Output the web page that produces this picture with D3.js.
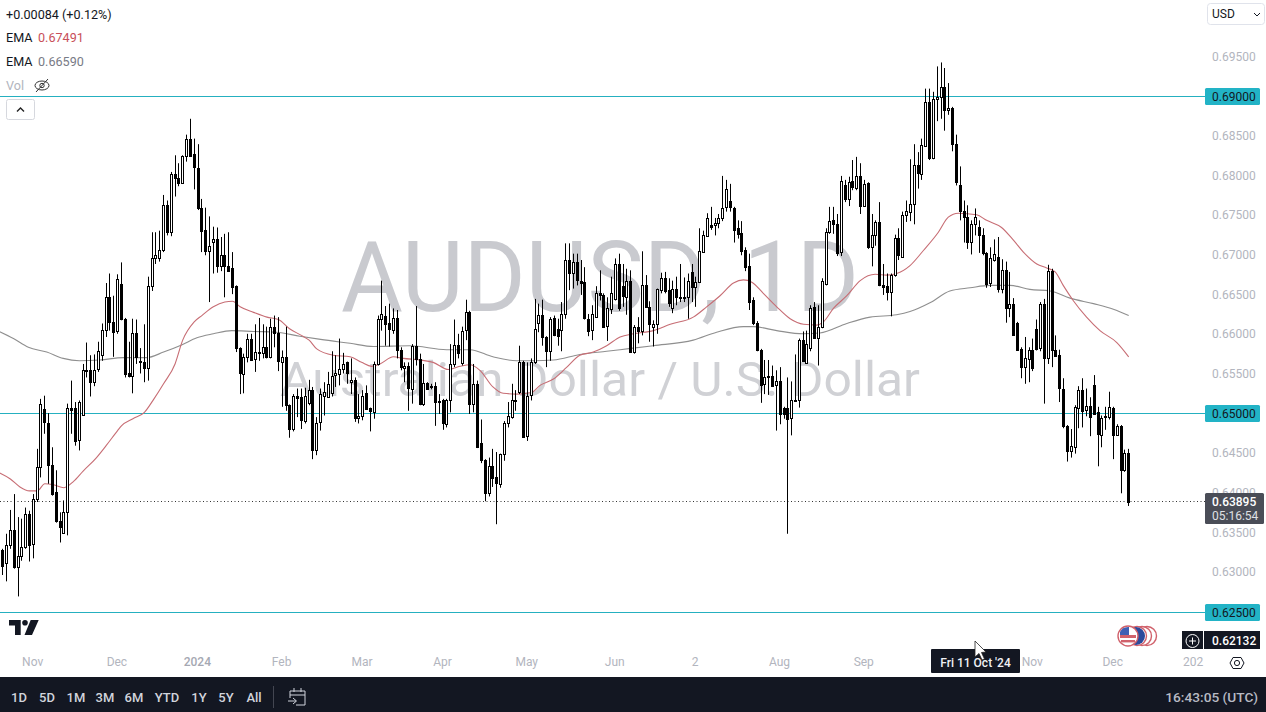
<!DOCTYPE html>
<html><head><meta charset="utf-8">
<script src="https://cdn.jsdelivr.net/npm/d3@7/dist/d3.min.js"></script>
<style>html,body{margin:0;padding:0;background:#fff;overflow:hidden}svg{display:block}text{font-family:Roboto,"Liberation Sans",sans-serif}</style>
</head><body><svg id="c" width="1266" height="712"></svg>
<script>
const opens=[0.6329,0.6312,0.6335,0.6354,0.6307,0.6321,0.6333,0.6374,0.6336,0.6393,
0.6433,0.6506,0.6489,0.6436,0.6402,0.6365,0.6350,0.6376,0.6508,0.6508,
0.6467,0.6499,0.6556,0.6556,0.6541,0.6556,0.6574,0.6606,0.6647,0.6616,
0.6604,0.6664,0.6620,0.6551,0.6548,0.6602,0.6567,0.6566,0.6558,0.6661,
0.6696,0.6696,0.6706,0.6763,0.6729,0.6802,0.6797,0.6791,0.6825,0.6847,
0.6827,0.6810,0.6760,0.6732,0.6706,0.6716,0.6720,0.6686,0.6700,0.6687,
0.6684,0.6661,0.6583,0.6551,0.6572,0.6595,0.6569,0.6577,0.6576,0.6584,
0.6572,0.6610,0.6602,0.6566,0.6572,0.6511,0.6481,0.6523,0.6521,0.6491,
0.6513,0.6530,0.6454,0.6490,0.6523,0.6522,0.6526,0.6548,0.6551,0.6557,
0.6565,0.6540,0.6543,0.6495,0.6497,0.6527,0.6507,0.6503,0.6563,0.6620,
0.6624,0.6614,0.6606,0.6621,0.6581,0.6557,0.6560,0.6532,0.6586,0.6569,
0.6512,0.6539,0.6535,0.6535,0.6516,0.6517,0.6488,0.6518,0.6563,0.6587,
0.6565,0.6605,0.6629,0.6513,0.6538,0.6464,0.6442,0.6401,0.6435,0.6421,
0.6411,0.6449,0.6488,0.6497,0.6517,0.6528,0.6566,0.6472,0.6523,0.6565,
0.6615,0.6625,0.6597,0.6580,0.6621,0.6607,0.6606,0.6626,0.6694,0.6678,
0.6691,0.6668,0.6666,0.6620,0.6606,0.6622,0.6652,0.6650,0.6610,0.6633,
0.6645,0.6689,0.6661,0.6647,0.6667,0.6578,0.6610,0.6605,0.6663,0.6635,
0.6609,0.6613,0.6656,0.6671,0.6656,0.6633,0.6657,0.6648,0.6648,0.6647,
0.6679,0.6660,0.6666,0.6704,0.6724,0.6738,0.6738,0.6741,0.6747,0.6760,
0.6768,0.6760,0.6734,0.6728,0.6706,0.6687,0.6643,0.6614,0.6581,0.6537,
0.6548,0.6548,0.6536,0.6542,0.6508,0.6508,0.6494,0.6517,0.6518,0.6593,
0.6564,0.6583,0.6635,0.6596,0.6609,0.6663,0.6729,0.6744,0.6740,0.6704,
0.6788,0.6771,0.6793,0.6785,0.6800,0.6762,0.6791,0.6710,0.6725,0.6742,
0.6663,0.6661,0.6653,0.6675,0.6722,0.6698,0.6751,0.6755,0.6765,0.6814,
0.6802,0.6838,0.6893,0.6823,0.6896,0.6899,0.6912,0.6883,0.6885,0.6840,
0.6789,0.6756,0.6748,0.6717,0.6739,0.6736,0.6726,0.6703,0.6664,0.6695,
0.6698,0.6658,0.6682,0.6634,0.6639,0.6615,0.6582,0.6559,0.6570,0.6581,
0.6607,0.6583,0.6638,0.6570,0.6680,0.6580,0.6574,0.6532,0.6485,0.6453,
0.6459,0.6507,0.6530,0.6505,0.6510,0.6537,0.6502,0.6474,0.6497,0.6496,
0.6508,0.6474,0.6485,0.6430,0.6451];
const highs=[0.6330,0.6349,0.6379,0.6399,0.6370,0.6368,0.6382,0.6378,0.6399,0.6456,
0.6519,0.6523,0.6501,0.6458,0.6429,0.6376,0.6391,0.6513,0.6542,0.6515,
0.6517,0.6563,0.6590,0.6574,0.6575,0.6591,0.6614,0.6665,0.6677,0.6649,
0.6676,0.6691,0.6621,0.6591,0.6620,0.6619,0.6583,0.6613,0.6673,0.6729,
0.6729,0.6731,0.6776,0.6769,0.6805,0.6826,0.6816,0.6826,0.6852,0.6872,
0.6847,0.6840,0.6771,0.6760,0.6749,0.6736,0.6735,0.6723,0.6727,0.6729,
0.6704,0.6662,0.6584,0.6576,0.6601,0.6601,0.6613,0.6621,0.6613,0.6610,
0.6620,0.6624,0.6622,0.6580,0.6610,0.6512,0.6525,0.6532,0.6532,0.6533,
0.6543,0.6534,0.6496,0.6532,0.6540,0.6553,0.6579,0.6574,0.6595,0.6577,
0.6566,0.6570,0.6546,0.6525,0.6530,0.6536,0.6508,0.6566,0.6624,0.6668,
0.6636,0.6639,0.6633,0.6631,0.6584,0.6565,0.6565,0.6588,0.6636,0.6576,
0.6563,0.6540,0.6538,0.6540,0.6525,0.6519,0.6519,0.6588,0.6619,0.6601,
0.6610,0.6644,0.6630,0.6563,0.6542,0.6493,0.6443,0.6445,0.6456,0.6452,
0.6450,0.6491,0.6515,0.6538,0.6530,0.6586,0.6567,0.6565,0.6570,0.6645,
0.6639,0.6644,0.6598,0.6622,0.6624,0.6620,0.6641,0.6715,0.6715,0.6702,
0.6702,0.6694,0.6685,0.6626,0.6637,0.6661,0.6681,0.6652,0.6647,0.6673,
0.6696,0.6702,0.6689,0.6683,0.6681,0.6612,0.6622,0.6705,0.6675,0.6642,
0.6618,0.6658,0.6678,0.6679,0.6671,0.6668,0.6673,0.6689,0.6672,0.6677,
0.6689,0.6673,0.6734,0.6731,0.6753,0.6761,0.6747,0.6752,0.6800,0.6795,
0.6790,0.6761,0.6744,0.6743,0.6710,0.6702,0.6647,0.6617,0.6582,0.6568,
0.6568,0.6561,0.6555,0.6559,0.6509,0.6546,0.6541,0.6575,0.6595,0.6604,
0.6605,0.6637,0.6641,0.6637,0.6671,0.6734,0.6761,0.6761,0.6752,0.6800,
0.6795,0.6799,0.6820,0.6824,0.6816,0.6795,0.6792,0.6752,0.6744,0.6767,
0.6689,0.6677,0.6677,0.6726,0.6734,0.6755,0.6769,0.6821,0.6840,0.6830,
0.6847,0.6910,0.6910,0.6906,0.6938,0.6943,0.6936,0.6917,0.6887,0.6852,
0.6812,0.6769,0.6763,0.6744,0.6759,0.6744,0.6734,0.6704,0.6710,0.6720,
0.6723,0.6695,0.6692,0.6679,0.6646,0.6616,0.6584,0.6597,0.6584,0.6595,
0.6619,0.6641,0.6645,0.6688,0.6683,0.6599,0.6581,0.6545,0.6486,0.6481,
0.6511,0.6535,0.6545,0.6532,0.6521,0.6549,0.6509,0.6498,0.6509,0.6528,
0.6509,0.6487,0.6486,0.6455,0.6456];
const lows=[0.6297,0.6289,0.6330,0.6305,0.6270,0.6315,0.6330,0.6314,0.6318,0.6389,
0.6420,0.6475,0.6412,0.6397,0.6363,0.6338,0.6350,0.6347,0.6475,0.6460,
0.6454,0.6498,0.6546,0.6522,0.6535,0.6553,0.6567,0.6597,0.6605,0.6572,
0.6601,0.6618,0.6546,0.6546,0.6526,0.6563,0.6551,0.6540,0.6542,0.6655,
0.6689,0.6692,0.6704,0.6725,0.6724,0.6774,0.6787,0.6790,0.6818,0.6825,
0.6783,0.6757,0.6704,0.6700,0.6641,0.6677,0.6678,0.6680,0.6647,0.6679,
0.6651,0.6578,0.6525,0.6526,0.6565,0.6567,0.6553,0.6567,0.6570,0.6570,
0.6570,0.6584,0.6554,0.6509,0.6504,0.6470,0.6478,0.6496,0.6481,0.6488,
0.6511,0.6443,0.6448,0.6479,0.6498,0.6522,0.6522,0.6534,0.6536,0.6551,
0.6538,0.6525,0.6490,0.6488,0.6492,0.6506,0.6478,0.6494,0.6561,0.6605,
0.6586,0.6585,0.6601,0.6570,0.6555,0.6540,0.6504,0.6513,0.6561,0.6511,
0.6510,0.6531,0.6531,0.6485,0.6500,0.6480,0.6483,0.6502,0.6559,0.6570,
0.6561,0.6593,0.6500,0.6502,0.6457,0.6438,0.6390,0.6396,0.6408,0.6361,
0.6407,0.6441,0.6483,0.6494,0.6504,0.6525,0.6471,0.6466,0.6517,0.6563,
0.6603,0.6586,0.6559,0.6567,0.6598,0.6586,0.6579,0.6620,0.6656,0.6658,
0.6662,0.6650,0.6619,0.6598,0.6593,0.6621,0.6643,0.6609,0.6592,0.6626,
0.6643,0.6630,0.6635,0.6625,0.6577,0.6576,0.6589,0.6599,0.6634,0.6591,
0.6585,0.6601,0.6652,0.6652,0.6635,0.6627,0.6637,0.6641,0.6641,0.6620,
0.6641,0.6635,0.6665,0.6703,0.6723,0.6732,0.6725,0.6734,0.6743,0.6755,
0.6755,0.6716,0.6721,0.6700,0.6680,0.6631,0.6612,0.6579,0.6514,0.6525,
0.6524,0.6534,0.6479,0.6487,0.6494,0.6349,0.6473,0.6516,0.6508,0.6566,
0.6564,0.6579,0.6595,0.6561,0.6608,0.6662,0.6727,0.6727,0.6699,0.6699,
0.6767,0.6762,0.6782,0.6782,0.6752,0.6761,0.6708,0.6686,0.6712,0.6661,
0.6650,0.6643,0.6623,0.6673,0.6694,0.6697,0.6742,0.6743,0.6739,0.6784,
0.6795,0.6837,0.6820,0.6821,0.6869,0.6872,0.6857,0.6877,0.6831,0.6788,
0.6744,0.6716,0.6708,0.6701,0.6725,0.6703,0.6700,0.6659,0.6660,0.6692,
0.6653,0.6652,0.6615,0.6622,0.6599,0.6580,0.6545,0.6538,0.6540,0.6554,
0.6580,0.6579,0.6513,0.6563,0.6559,0.6572,0.6515,0.6482,0.6440,0.6445,
0.6450,0.6482,0.6483,0.6497,0.6472,0.6500,0.6434,0.6458,0.6480,0.6493,
0.6443,0.6473,0.6400,0.6427,0.6384];
const closes=[0.6309,0.6335,0.6354,0.6307,0.6321,0.6332,0.6374,0.6335,0.6393,0.6433,
0.6512,0.6489,0.6436,0.6399,0.6365,0.6357,0.6376,0.6507,0.6506,0.6467,
0.6515,0.6556,0.6555,0.6541,0.6556,0.6579,0.6606,0.6647,0.6616,0.6604,
0.6670,0.6620,0.6551,0.6547,0.6602,0.6572,0.6566,0.6558,0.6661,0.6696,
0.6700,0.6706,0.6763,0.6729,0.6802,0.6797,0.6791,0.6825,0.6847,0.6826,
0.6810,0.6759,0.6731,0.6706,0.6712,0.6720,0.6686,0.6700,0.6686,0.6681,
0.6660,0.6583,0.6551,0.6572,0.6595,0.6568,0.6578,0.6578,0.6584,0.6572,
0.6610,0.6602,0.6567,0.6572,0.6511,0.6481,0.6523,0.6520,0.6492,0.6523,
0.6530,0.6454,0.6488,0.6525,0.6528,0.6538,0.6548,0.6551,0.6557,0.6563,
0.6551,0.6543,0.6495,0.6497,0.6522,0.6507,0.6503,0.6563,0.6620,0.6626,
0.6614,0.6606,0.6621,0.6581,0.6559,0.6560,0.6532,0.6586,0.6569,0.6512,
0.6539,0.6532,0.6534,0.6515,0.6515,0.6488,0.6518,0.6563,0.6587,0.6577,
0.6605,0.6628,0.6513,0.6538,0.6458,0.6442,0.6401,0.6435,0.6420,0.6414,
0.6449,0.6488,0.6497,0.6518,0.6518,0.6566,0.6472,0.6523,0.6565,0.6607,
0.6625,0.6597,0.6579,0.6620,0.6599,0.6598,0.6626,0.6694,0.6678,0.6692,
0.6668,0.6665,0.6620,0.6605,0.6626,0.6652,0.6649,0.6610,0.6633,0.6653,
0.6689,0.6633,0.6648,0.6667,0.6578,0.6610,0.6605,0.6663,0.6635,0.6613,
0.6613,0.6657,0.6671,0.6655,0.6640,0.6657,0.6647,0.6647,0.6647,0.6667,
0.6660,0.6666,0.6705,0.6725,0.6747,0.6736,0.6741,0.6747,0.6760,0.6783,
0.6760,0.6732,0.6727,0.6705,0.6684,0.6642,0.6614,0.6580,0.6537,0.6546,
0.6547,0.6536,0.6541,0.6500,0.6500,0.6494,0.6517,0.6518,0.6593,0.6567,
0.6588,0.6634,0.6596,0.6610,0.6667,0.6729,0.6743,0.6739,0.6704,0.6794,
0.6770,0.6792,0.6785,0.6800,0.6762,0.6790,0.6710,0.6725,0.6742,0.6662,
0.6661,0.6653,0.6675,0.6722,0.6701,0.6751,0.6756,0.6765,0.6814,0.6804,
0.6839,0.6893,0.6823,0.6897,0.6899,0.6912,0.6883,0.6885,0.6840,0.6792,
0.6756,0.6748,0.6717,0.6740,0.6748,0.6726,0.6703,0.6664,0.6696,0.6702,
0.6658,0.6682,0.6634,0.6639,0.6600,0.6581,0.6559,0.6570,0.6581,0.6558,
0.6582,0.6638,0.6570,0.6680,0.6580,0.6573,0.6532,0.6485,0.6453,0.6459,
0.6509,0.6530,0.6504,0.6510,0.6496,0.6501,0.6474,0.6495,0.6496,0.6509,
0.6474,0.6485,0.6430,0.6451,0.63895];

// EMA lines: bar number
const emaFastBars=[-1,2,4.5,7,9,11,13,16,18.5,21,24.5,27,30,31,34,37,39.5,42,45,47,50,52,55,58,60,62,65.5,69,72,75,78,80,82,86.3,90.7,93.7,96.3,98.5,102,104.6,109,112.4,116.4,119.4,122,124.6,128,130.7,134.2,138,140.3,143.8,147.3,150.7,154.2,157.7,161.2,164.7,169.9,174.3,180.3,183.8,187.3,190.8,193.4,195.6,198.6,202.1,205.6,209.1,212.5,214.3,216.9,220.4,223.9,227.8,230.8,233.4,236.9,240.4,244.3,246.9,249.5,254.3,256.9,260.8,263.9,266.5,270,272.6,274.8,276.9,279.5,283,286.5,290.9,294];
const emaFast=[0.6426,0.6418,0.6408,0.6403,0.6403,0.6412,0.6411,0.6407,0.6415,0.6428,0.6445,0.6460,0.6479,0.6485,0.6494,0.6502,0.6519,0.6538,0.6563,0.6593,0.6616,0.6624,0.6635,0.6641,0.6642,0.6635,0.6628,0.6622,0.6619,0.6607,0.6599,0.6593,0.6582,0.6574,0.6572,0.6565,0.6560,0.6563,0.6572,0.6570,0.6568,0.6565,0.6556,0.6560,0.6562,0.6555,0.6534,0.6526,0.6525,0.6527,0.6536,0.6544,0.6559,0.6574,0.6578,0.6586,0.6597,0.6601,0.6605,0.6613,0.6622,0.6635,0.6649,0.6665,0.6669,0.6666,0.6652,0.6635,0.6620,0.6613,0.6612,0.6616,0.6633,0.6649,0.6668,0.6676,0.6675,0.6677,0.6687,0.6706,0.6729,0.6748,0.6753,0.6751,0.6744,0.6735,0.6719,0.6704,0.6689,0.6684,0.6679,0.6662,0.6643,0.6622,0.6605,0.6590,0.6572];
const emaSlowBars=[-1,2.8,6.7,11.5,15.8,20,25.4,31.5,37.6,42,46.7,50.7,55,59.8,65.5,71.5,77.6,83,90.7,96.8,106.3,115.9,122,128,134.2,138.5,143.8,150.7,157.7,161.2,169.9,180.3,186.4,193.4,196,202.1,209,213.4,220.4,226.5,233.4,236.9,242.1,247.3,252.6,257.8,263,268.2,273.5,278.7,284.8,290,294];
const emaSlow=[0.6604,0.6595,0.6584,0.6578,0.6570,0.6567,0.6568,0.6571,0.6571,0.6578,0.6587,0.6596,0.6601,0.6605,0.6604,0.6603,0.6598,0.6594,0.6589,0.6585,0.6586,0.6581,0.6581,0.6572,0.6567,0.6567,0.6568,0.6575,0.6579,0.6581,0.6586,0.6593,0.6603,0.6610,0.6610,0.6605,0.6601,0.6602,0.6614,0.6622,0.6625,0.6629,0.6640,0.6655,0.6659,0.6662,0.6662,0.6657,0.6655,0.6646,0.6639,0.6632,0.6624];

const priceTicks=[0.63,0.635,0.64,0.645,0.655,0.66,0.665,0.67,0.675,0.68,0.685,0.695];
const levels=[0.69,0.65,0.625];
const lastPrice=0.63895, crossPrice=0.62132;
const dateBars=[8,30,51,73,94,115,137,160,181,203,225,269,290,311];
const dateLabels=["Nov","Dec","2024","Feb","Mar","Apr","May","Jun","2","Aug","Sep","Nov","Dec","202"];
const rangeLabels=["1D","5D","1M","3M","6M","YTD","1Y","5Y","All"];

const svg=d3.select("#c");
const x=d3.scaleLinear().domain([0,294]).range([2.7,1128.7]);
const y=d3.scaleLinear().domain([0.625,0.695]).range([612.3,56.9]);
const AX="#b2b5be",DARK="#131722",TEAL="#22b3c6";
const snap=v=>Math.floor(v)+0.5;
svg.append("defs").append("clipPath").attr("id","pane").append("rect").attr("width",1205).attr("height",650);

// watermark
const wm=svg.append("g").attr("fill","#c9cacf").attr("text-anchor","middle");
wm.append("text").attr("x",600).attr("y",311).attr("font-size",98).attr("textLength",518).attr("lengthAdjust","spacingAndGlyphs").text("AUDUSD, 1D");
wm.append("text").attr("x",600).attr("y",396).attr("font-size",48).attr("fill","#d0d1d5").attr("textLength",640).attr("lengthAdjust","spacingAndGlyphs").text("Australian Dollar / U.S. Dollar");

const pane=svg.append("g").attr("clip-path","url(#pane)");
// level lines
pane.selectAll("line.lv").data(levels).join("line").attr("class","lv").attr("x1",0).attr("x2",1205)
 .attr("y1",d=>snap(y(d))).attr("y2",d=>snap(y(d))).attr("stroke","#25b0c0").attr("stroke-width",1.2);
// last price dotted
pane.append("line").attr("x1",0).attr("x2",1205).attr("y1",snap(y(lastPrice))).attr("y2",snap(y(lastPrice)))
 .attr("stroke","#333").attr("stroke-dasharray","1 2.5");

// EMA lines
const lineGen=d3.line().x(d=>x(d[0])).y(d=>y(d[1])).curve(d3.curveMonotoneX);
pane.append("path").attr("d",lineGen(d3.zip(emaSlowBars,emaSlow))).attr("fill","none").attr("stroke","#8f8f8f").attr("stroke-width",1.1);
pane.append("path").attr("d",lineGen(d3.zip(emaFastBars,emaFast))).attr("fill","none").attr("stroke","#c76d74").attr("stroke-width",1.1);

// candles
const bars=opens.map((o,i)=>({i,o,h:highs[i],l:lows[i],c:closes[i]}));
const g=pane.selectAll("g.k").data(bars).join("g").attr("class","k");
g.append("line").attr("x1",d=>snap(x(d.i))).attr("x2",d=>snap(x(d.i))).attr("y1",d=>y(d.h)).attr("y2",d=>y(d.l)).attr("stroke","#000");
g.append("rect").attr("x",d=>snap(x(d.i))-1).attr("width",2)
 .attr("y",d=>Math.round(y(Math.max(d.o,d.c)))+0.5)
 .attr("height",d=>Math.max(1,Math.round(Math.abs(y(d.o)-y(d.c)))))
 .attr("fill",d=>d.c>=d.o?"#fff":"#000").attr("stroke","#000");

// price axis
const ya=svg.append("g").attr("transform","translate(1205,-0.7)").call(d3.axisRight(y).tickValues(priceTicks).tickSize(0).tickPadding(7).tickFormat(d3.format(".5f")));
ya.select(".domain").remove();
ya.selectAll("text").attr("fill",AX).attr("font-size",12).style("font-family","Roboto");

// level tags
const tags=svg.selectAll("g.tag").data(levels).join("g").attr("class","tag").attr("transform",d=>`translate(1205,${snap(y(d))-8.5})`);
tags.append("rect").attr("width",55).attr("height",17).attr("rx",1.5).attr("fill",TEAL);
tags.append("text").attr("x",7).attr("y",13).attr("font-size",12).attr("fill",DARK).text(d=>d3.format(".5f")(d));

// last price tag
const lt=svg.append("g").attr("transform","translate(1205,493)");
lt.append("rect").attr("width",59).attr("height",31).attr("rx",1.5).attr("fill","#4a4d57");
lt.append("text").attr("x",7).attr("y",13).attr("font-size",12).attr("font-weight",500).attr("fill","#fff").text(d3.format(".5f")(lastPrice));
lt.append("text").attr("x",7).attr("y",27).attr("font-size",12).attr("fill","#dfe0e4").text("05:16:54");

// crosshair tag and plus button
svg.append("rect").attr("x",1182).attr("y",631).attr("width",21).attr("height",18).attr("fill",DARK);
svg.append("circle").attr("cx",1192.5).attr("cy",641).attr("r",6.5).attr("fill","none").attr("stroke","#fff");
svg.append("path").attr("d","M1192.5 637.5V644.5M1189 641H1196").attr("stroke","#fff");
svg.append("rect").attr("x",1204).attr("y",631).attr("width",56).attr("height",18).attr("fill",DARK);
svg.append("text").attr("x",1212).attr("y",645).attr("font-size",12).attr("font-weight",500).attr("fill","#fff").text(d3.format(".5f")(crossPrice));

// time axis
const xa=svg.append("g").attr("transform","translate(-1.2,650)").call(d3.axisBottom(x).tickValues(dateBars).tickSize(0).tickPadding(7).tickFormat((d,i)=>dateLabels[i]));
xa.select(".domain").remove();
xa.selectAll("text").attr("fill",AX).attr("font-size",12).style("font-family","Roboto");
xa.selectAll("text").filter((d,i)=>dateLabels[i]==="2024").attr("font-weight",500).attr("fill","#a5a8b2");

// date tooltip and pointer
svg.append("rect").attr("x",931).attr("y",649).attr("width",89).attr("height",24).attr("rx",1).attr("fill",DARK);
svg.append("text").attr("x",975.5).attr("y",667).attr("text-anchor","middle").attr("font-size",12).attr("font-weight",500).attr("fill","#f0f1f4").text("Fri 11 Oct '24");
svg.append("path").attr("d","M975 641V657L979 653.5L982 660L984.5 659L981.5 652.5L986 652Z").attr("fill","#fff").attr("stroke","#222").attr("stroke-width",0.8);

// header legend
const hd=svg.append("g").attr("font-size",12.6);
hd.append("text").attr("x",6).attr("y",18.5).attr("fill",DARK).text("+0.00084 (+0.12%)");
hd.append("text").attr("x",6).attr("y",42).attr("fill",DARK).text("EMA");
hd.append("text").attr("x",38).attr("y",42).attr("fill","#c8505a").text("0.67491");
hd.append("text").attr("x",6).attr("y",66).attr("fill",DARK).text("EMA");
hd.append("text").attr("x",38).attr("y",66).attr("fill","#787b86").text("0.66590");
hd.append("text").attr("x",6).attr("y",90).attr("fill",AX).text("Vol");
hd.append("ellipse").attr("cx",42).attr("cy",85.5).attr("rx",7).attr("ry",4.5).attr("fill","none").attr("stroke","#333");
hd.append("circle").attr("cx",42).attr("cy",85.5).attr("r",2.2).attr("fill","none").attr("stroke","#333");
hd.append("path").attr("d","M36 92L48 79").attr("stroke","#333");
svg.append("rect").attr("x",6.5).attr("y",99.5).attr("width",28).attr("height",20).attr("rx",2).attr("fill","#fff").attr("stroke","#d6d8de");
svg.append("path").attr("d","M17 111.5L20.5 108L24 111.5").attr("fill","none").attr("stroke","#222").attr("stroke-width",1.4);

// currency selector
svg.append("rect").attr("x",1207.5).attr("y",3.5).attr("width",57).attr("height",21).attr("rx",3).attr("fill","#fff").attr("stroke","#e0e3eb");
svg.append("text").attr("x",1212).attr("y",18).attr("font-size",12).attr("fill",DARK).text("USD");
svg.append("path").attr("d","M1254 13L1257 16L1260 13").attr("fill","none").attr("stroke",DARK);

// TradingView mark
svg.append("path").attr("fill","#131722").attr("d","M9 620H20.7V635H15V625.5H9ZM30.7 620H38.7L32 635H24.5Z");
svg.append("circle").attr("cx",25).attr("cy",622.8).attr("r",2.8).attr("fill","#131722");

// flag badges
const fl=svg.append("g");
[1147,1142,1137].forEach(cx=>fl.append("circle").attr("cx",cx).attr("cy",636).attr("r",9.5).attr("fill","#fff").attr("stroke","#d0616b").attr("stroke-width",1.4));
fl.append("circle").attr("cx",1136).attr("cy",636).attr("r",9).attr("fill","#2b4a9b");
fl.append("circle").attr("cx",1128).attr("cy",636).attr("r",10).attr("fill","#fff").attr("stroke","#d0616b").attr("stroke-width",1.4);
fl.append("rect").attr("x",1120).attr("y",635).attr("width",16).attr("height",3).attr("fill","#d0616b");
fl.append("rect").attr("x",1121).attr("y",640).attr("width",14).attr("height",2.4).attr("fill","#d0616b");
fl.append("path").attr("d","M1120 635V632a9 8 0 0 1 8 -5h1v8Z").attr("fill","#3e5fb4");

// settings icon
svg.append("path").attr("d","M1233 657.5H1241L1244 663L1241 668.5H1233L1230 663Z").attr("fill","none").attr("stroke","#131722");
svg.append("circle").attr("cx",1237).attr("cy",663).attr("r",2.6).attr("fill","none").attr("stroke","#131722");

// bottom bar
svg.append("rect").attr("x",0).attr("y",677).attr("width",1266).attr("height",35).attr("fill",DARK);
const rangeGap=[0,28,57,86,115,148,180,207,235];
svg.append("g").selectAll("text").data(rangeLabels).join("text").attr("x",(d,i)=>19+rangeGap[i]).attr("y",702).attr("text-anchor","middle")
 .attr("font-size",13).attr("font-weight",500).attr("fill","#d1d4dc").text(d=>d);
svg.append("line").attr("x1",273.5).attr("x2",273.5).attr("y1",686).attr("y2",708).attr("stroke","#434651");
svg.append("path").attr("d","M290 691H305V705H296M290 691V698M290 695H305M294 688V692M301 688V692M288 701H296M293 698L296.5 701L293 704").attr("fill","none").attr("stroke","#d1d4dc");
svg.append("text").attr("x",1258).attr("y",702).attr("text-anchor","end").attr("font-size",13.7).attr("font-weight",500).attr("fill","#b8bbc4").text("16:43:05 (UTC)");
</script></body></html>
